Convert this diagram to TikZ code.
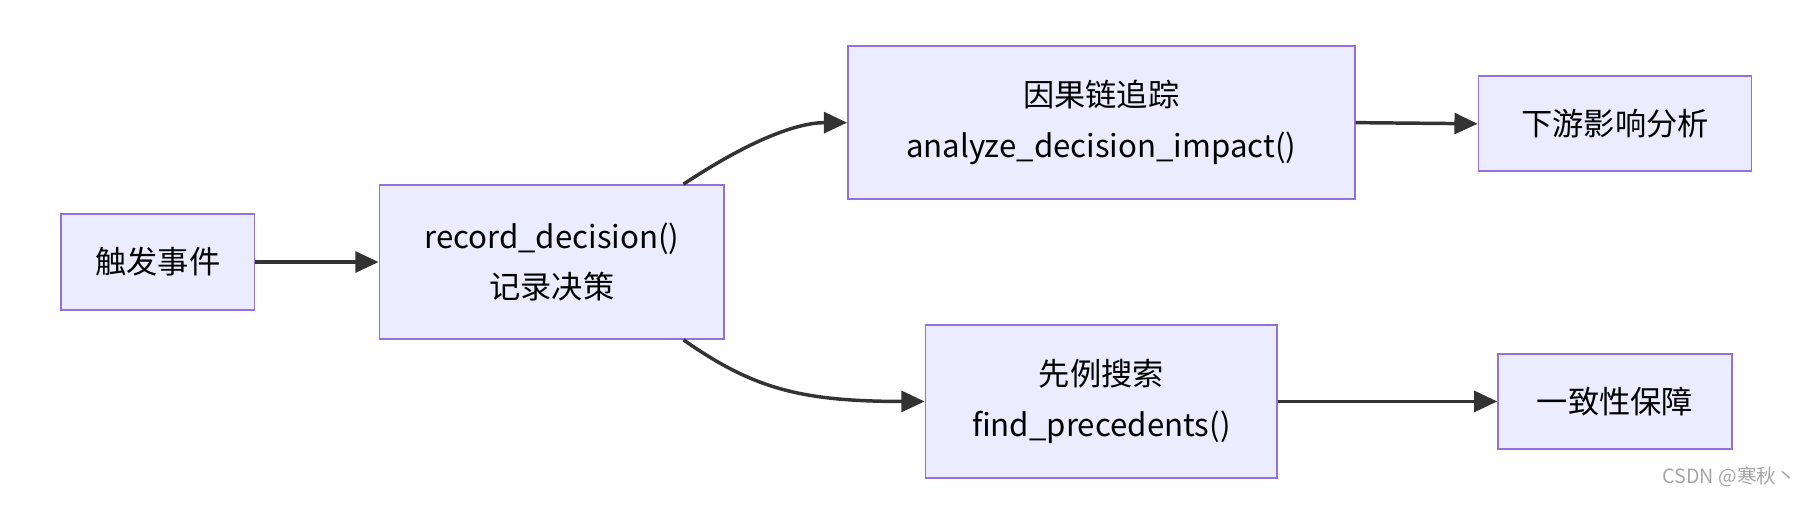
\documentclass[tikz,border=0pt]{standalone}
\usepackage{fontspec}
\setmainfont{Noto Sans CJK SC}
\usetikzlibrary{arrows.meta}
\definecolor{nfill}{HTML}{ECECFF}
\definecolor{nline}{HTML}{9370DB}
\definecolor{aline}{HTML}{333333}
\begin{document}
\begin{tikzpicture}[x=1pt,y=-1pt,
  box/.style={draw=nline,fill=nfill,line width=1.6pt,inner sep=0pt,align=center,font=\fontsize{27}{44}\selectfont},
  arr/.style={draw=aline,line width=3pt,-{Triangle[length=20pt,width=18pt]}}]
\useasboundingbox[fill=white] (0,0) rectangle (1568,439);
\node[box,minimum width=167pt,minimum height=83pt] (a) at (136.5,226.5) {触发事件};
\node[box,minimum width=298pt,minimum height=133pt] (b) at (477,226.5) {record\_decision()\\记录决策};
\node[box,minimum width=438pt,minimum height=132pt] (c) at (952,106) {因果链追踪\\analyze\_decision\_impact()};
\node[box,minimum width=236pt,minimum height=82pt] (d) at (1396,107) {下游影响分析};
\node[box,minimum width=304pt,minimum height=132pt] (e) at (952,347) {先例搜索\\find\_precedents()};
\node[box,minimum width=202pt,minimum height=82pt] (f) at (1396,347) {一致性保障};
\draw[arr] (a.east) -- (b.west);
\draw[arr] ([xshift=-36pt]b.north east) .. controls (650,120) and (690,106) .. (c.west);
\draw[arr] ([xshift=-36pt]b.south east) .. controls (650,335) and (690,347) .. (e.west);
\draw[arr] (c.east) -- (d.west);
\draw[arr] (e.east) -- (f.west);
\node[text=gray!70,font=\fontsize{17}{20}\selectfont,anchor=east] (w) at (1556,412) {CSDN @寒秋丶};
\end{tikzpicture}
\end{document}
